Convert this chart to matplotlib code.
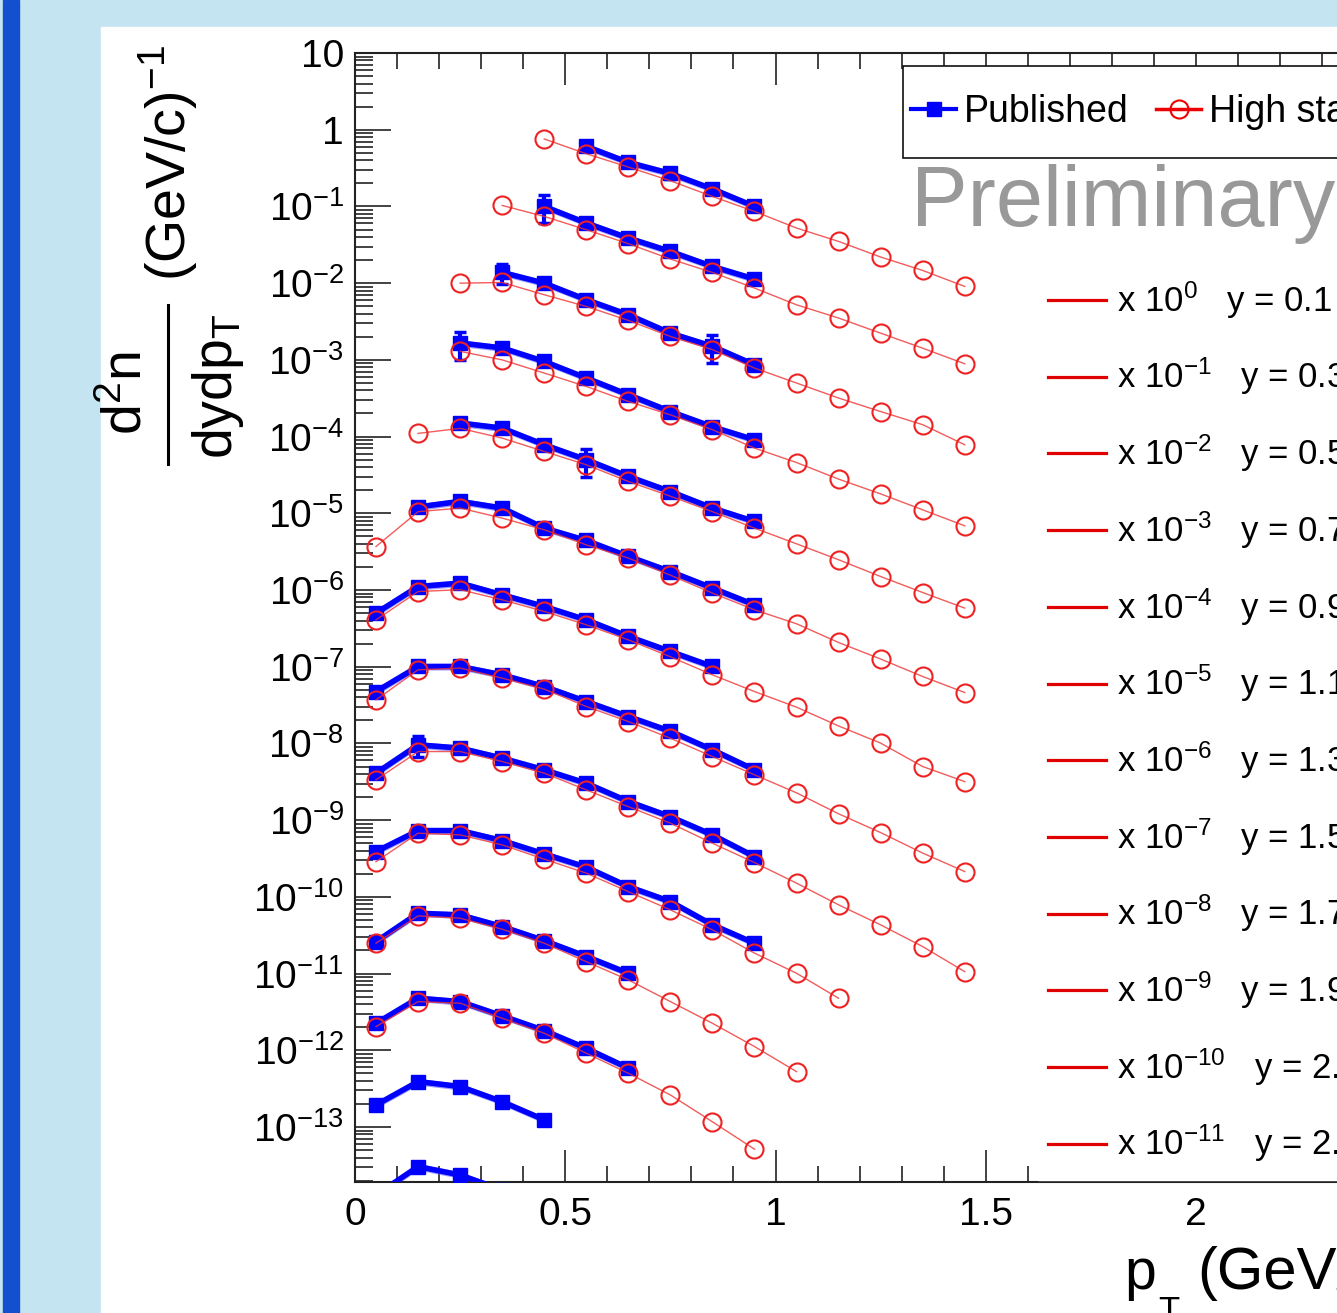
import numpy as np
import matplotlib
matplotlib.use("Agg")
from matplotlib import pyplot as plt
from matplotlib.lines import Line2D
from matplotlib.patches import Rectangle
from matplotlib.ticker import MultipleLocator, LogLocator, FuncFormatter, NullFormatter

plt.rcParams['font.family'] = ['Liberation Sans', 'DejaVu Sans']
plt.rcParams['mathtext.fontset'] = 'custom'
plt.rcParams['mathtext.rm'] = 'Liberation Sans'
plt.rcParams['mathtext.it'] = 'Liberation Sans'
plt.rcParams['mathtext.bf'] = 'Liberation Sans:bold'

# pT bin centres (GeV/c)
pt_bins = [0.05, 0.15, 0.25, 0.35, 0.45, 0.55, 0.65, 0.75, 0.85, 0.95,
           1.05, 1.15, 1.25, 1.35, 1.45]

# rapidity of each spectrum, spectrum k is scaled by 10^-k
rapidity = [0.1, 0.3, 0.5, 0.7, 0.9, 1.1, 1.3, 1.5, 1.7, 1.9, 2.1, 2.3]

# published spectra: index of first pT bin, values (unscaled)
pub_start = [5, 4, 3, 2, 2, 1, 0, 0, 0, 0, 0, 0, 0, 0]
pub_vals = [
    [0.605, 0.375, 0.269, 0.169, 0.100],
    [1.00, 0.608, 0.387, 0.259, 0.165, 0.113],
    [1.38, 1.00, 0.608, 0.387, 0.223, 0.150, 0.0863],
    [1.66, 1.43, 0.953, 0.580, 0.351, 0.212, 0.134, 0.0908],
    [1.50, 1.29, 0.782, 0.499, 0.302, 0.192, 0.117, 0.0782],
    [1.21, 1.43, 1.17, 0.641, 0.442, 0.274, 0.174, 0.106, 0.0641],
    [0.500, 1.11, 1.23, 0.865, 0.610, 0.408, 0.248, 0.158, 0.1007],
    [0.475, 1.007, 1.007, 0.783, 0.552, 0.352, 0.224, 0.144, 0.0826, 0.0453],
    [0.410, 0.959, 0.869, 0.643, 0.453, 0.303, 0.175, 0.111, 0.0643, 0.0335],
    [0.390, 0.731, 0.731, 0.542, 0.363, 0.244, 0.136, 0.0869, 0.0432, 0.0249],
    [0.261, 0.612, 0.582, 0.410, 0.269, 0.167, 0.101],
    [0.225, 0.478, 0.431, 0.281, 0.181, 0.106, 0.0585],
    [0.194, 0.391, 0.337, 0.214, 0.124],
    [0.130, 0.305, 0.237, 0.151],
]
pub_sys = 0.10  # relative systematic band

# visible statistical errors on published points: (spectrum, pT, rel. error)
pub_errors = [(0, 0.75, 0.15), (1, 0.45, 0.4), (2, 0.35, 0.3), (2, 0.85, 0.4),
              (3, 0.25, 0.4), (4, 0.55, 0.4), (8, 0.15, 0.3)]

# high statistics spectra
hs_start = [4, 3, 2, 2, 1, 0, 0, 0, 0, 0, 0, 0]
hs_vals = [
    [0.757, 0.486, 0.326, 0.216, 0.135, 0.0861, 0.0523, 0.0350, 0.0219, 0.01465, 0.00906],
    [1.03, 0.741, 0.497, 0.327, 0.206, 0.138, 0.0863, 0.0522, 0.0351, 0.0223, 0.0142, 0.00889],
    [1.00, 1.02, 0.706, 0.497, 0.327, 0.202, 0.136, 0.0782, 0.0499, 0.0318, 0.0212, 0.0143, 0.00782],
    [1.29, 1.00, 0.673, 0.450, 0.287, 0.192, 0.123, 0.0708, 0.0459, 0.0279, 0.0179, 0.0111, 0.00687],
    [1.10, 1.28, 0.955, 0.640, 0.429, 0.260, 0.167, 0.105, 0.0641, 0.0400, 0.0248, 0.0150, 0.00927, 0.00581],
    [0.369, 1.05, 1.17, 0.865, 0.610, 0.388, 0.261, 0.156, 0.0912, 0.0552, 0.0363, 0.0207, 0.0126, 0.00746, 0.00461],
    [0.408, 0.955, 1.01, 0.745, 0.525, 0.352, 0.224, 0.135, 0.0783, 0.0475, 0.0297, 0.0169, 0.0101, 0.0050, 0.00318],
    [0.370, 0.912, 0.960, 0.710, 0.511, 0.303, 0.193, 0.117, 0.0675, 0.0390, 0.0227, 0.0121, 0.00689, 0.00372, 0.00214],
    [0.335, 0.784, 0.784, 0.581, 0.410, 0.248, 0.150, 0.0914, 0.0501, 0.0280, 0.0151, 0.00787, 0.00432, 0.00225, 0.00106],
    [0.288, 0.676, 0.643, 0.476, 0.310, 0.204, 0.117, 0.0677, 0.0372, 0.0185, 0.0101, 0.00477],
    [0.249, 0.565, 0.527, 0.379, 0.249, 0.143, 0.0828, 0.0432, 0.0225, 0.0112, 0.00527],
    [0.204, 0.431, 0.411, 0.262, 0.167, 0.0917, 0.0502, 0.0262, 0.0117, 0.00514],
]

W, H = 1337, 1313
fig = plt.figure(figsize=(W / 100, H / 100), dpi=100, facecolor='#c5e4f1')

# slide decoration: blue stripe and white panel
fig.patches.append(Rectangle((3 / W, 0), 16 / W, 1, transform=fig.transFigure,
                             color='#1450cd', zorder=-2))
fig.patches.append(Rectangle((101 / W, 0), 1, 1 - 27 / H, transform=fig.transFigure,
                             color='white', zorder=-2))

px_per_unit = 420.5
ax = fig.add_axes([355 / W, 1 - 1182 / H, 2.5 * px_per_unit / W, (1182 - 53) / H])
ax.set_xlim(0, 2.5)
ax.set_yscale('log')
ax.set_ylim(1.92e-14, 10)

for k, vals in enumerate(pub_vals):
    scale = 10.0 ** (-k)
    x = pt_bins[pub_start[k]:pub_start[k] + len(vals)]
    y = np.array(vals) * scale
    ax.fill_between(x, y * (1 - pub_sys), y * (1 + pub_sys), color='#5a5aff',
                    alpha=0.6, lw=0, zorder=2)
    ax.plot(x, y, color='#0000ff', lw=4, marker='s', ms=10.5, zorder=3)

for k, ptv, err in pub_errors:
    i = pt_bins.index(ptv) - pub_start[k]
    v = pub_vals[k][i] * 10.0 ** (-k)
    ax.errorbar([ptv], [v], yerr=[v * err], fmt='none', ecolor='#0000ff',
                elinewidth=3, capsize=4, capthick=2.5, zorder=3)

for k, vals in enumerate(hs_vals):
    scale = 10.0 ** (-k)
    x = pt_bins[hs_start[k]:hs_start[k] + len(vals)]
    y = np.array(vals) * scale
    ax.plot(x, y, color='#ee3333', lw=1, alpha=0.8, zorder=4)
    ax.plot(x, y, ls='none', marker='o', mfc='none', mec='#ee2222', ms=13,
            mew=1.5, zorder=5)

# axes styling (ROOT like)
for s in ax.spines.values():
    s.set_linewidth(1.5)
    s.set_color('#222222')
ax.xaxis.set_major_locator(MultipleLocator(0.5))
ax.xaxis.set_minor_locator(MultipleLocator(0.1))
ax.yaxis.set_major_locator(LogLocator(base=10, numticks=30))
ax.yaxis.set_minor_locator(LogLocator(base=10, subs=np.arange(2, 10), numticks=300))
ax.yaxis.set_minor_formatter(NullFormatter())


def ylab(v, pos):
    e = int(round(np.log10(v)))
    if e == 1:
        return '10'
    if e == 0:
        return '1'
    return r'$10^{%d}$' % e


def xlab(v, pos):
    return '%g' % v


ax.yaxis.set_major_formatter(FuncFormatter(ylab))
ax.xaxis.set_major_formatter(FuncFormatter(xlab))
ax.tick_params(axis='both', which='both', direction='in', top=True, right=True,
               color='#222222', width=1.2, labelsize=28)
ax.tick_params(axis='x', which='major', length=23, pad=11)
ax.tick_params(axis='x', which='minor', length=11.5)
ax.tick_params(axis='y', which='major', length=26, pad=8)
ax.tick_params(axis='y', which='minor', length=13)

# legend box
axw = 2.5 * px_per_unit
axh = 1182 - 53
ax.add_patch(Rectangle(((903 - 355) / axw, 1 - (158 - 53) / axh), 1,
                       (158 - 66) / axh, transform=ax.transAxes, facecolor='white',
                       edgecolor='#111111', lw=1.2, zorder=6, clip_on=False))
handles = [Line2D([], [], color='#0000ff', lw=3, marker='s', ms=10),
           Line2D([], [], color='#ee0000', lw=2.5, marker='o', mfc='none', ms=13, mew=1.5)]
leg = ax.legend(handles, ['Published', 'High statistics'], ncol=2, frameon=False,
                loc='center left', fontsize=27,
                bbox_to_anchor=((911 - 355) / axw, 1 - (112 - 53) / axh),
                borderpad=0, borderaxespad=0, handlelength=1.2, handletextpad=0.2,
                columnspacing=0.75)
leg.set_zorder(7)

# white box of the scale legend hides the bottom ticks
fig.patches.append(Rectangle((1038 / W, 1 - 1180 / H), 1, (1180 - 265) / H,
                             transform=fig.transFigure, color='white', zorder=1))

fig.text(911 / W, 1 - 226 / H, 'Preliminary', fontsize=61, color='#999999',
         va='baseline')

for k, yv in enumerate(rapidity):
    yc = 300 + 76.7 * k
    fig.add_artist(Line2D([1048 / W, 1106 / W], [1 - yc / H, 1 - yc / H],
                          transform=fig.transFigure, color='#e00000', lw=2.3))
    fig.text(1117 / W, 1 - yc / H, r'x $10^{%d}$   y = %.1f' % (-k, yv),
             fontsize=25, va='center')

# y axis title: (GeV/c)^-1 and the fraction d2n / dydpT
fig.text(168 / W, 1 - 45 / H, r'(GeV/c)$^{-1}$', rotation=90, ha='center',
         va='top', fontsize=40)
fig.text(128 / W, 1 - 393 / H, r'd$^{2}$n', rotation=90, ha='center',
         va='center', fontsize=40)
fig.text(218 / W, 1 - 386 / H, r'dydp$_{T}$', rotation=90, ha='center',
         va='center', fontsize=40)
fig.add_artist(Line2D([168 / W, 168 / W], [1 - 305 / H, 1 - 464 / H],
                      transform=fig.transFigure, color='black', lw=2.2))

# x axis title
fig.text(1124 / W, 1 - 1289 / H, 'p', fontsize=41, va='baseline')
fig.text(1158 / W, 1 - 1295 / H, 'T', fontsize=25, va='top')
fig.text(1197 / W, 1 - 1289 / H, '(GeV/c)', fontsize=43, va='baseline')

fig.savefig('out.png', dpi=100, facecolor=fig.get_facecolor())
